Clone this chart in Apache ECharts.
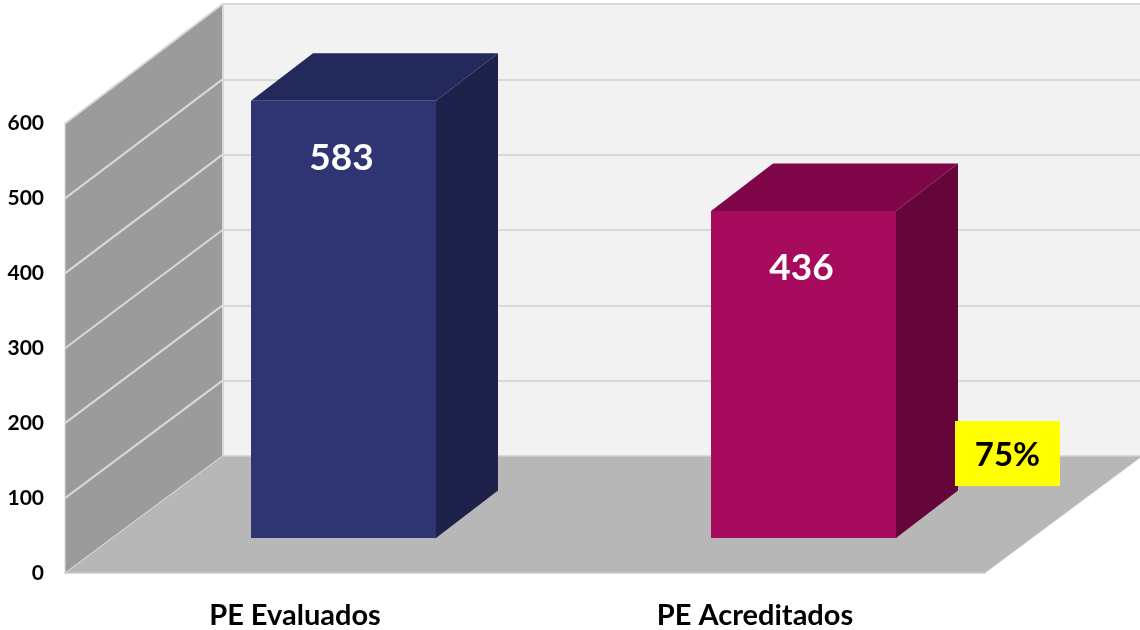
<!DOCTYPE html>
<html>
<head>
<meta charset="utf-8">
<title>PE Evaluados / PE Acreditados</title>
<style>
  html, body { margin: 0; padding: 0; background: #fff; }
  #main { width: 1140px; height: 630px; }
</style>
</head>
<body>
<div id="main"></div>
<script src="https://cdn.jsdelivr.net/npm/echarts@6/dist/echarts.min.js"></script>
<script>
  const categories = ['PE Evaluados', 'PE Acreditados']
  const values = [583, 436]
  const yTicks = [0, 100, 200, 300, 400, 500, 600]
  const percentLabel = '75%'
  const frontColors = ['#2e3572', '#a60b5e']
  const topColors = ['#232a5b', '#80064a']
  const sideColors = ['#1e214a', '#66053a']

  const font = 'Lato, "Open Sans", sans-serif'
  const gridLine = '#d9d9d9'

  // how far the back wall and the bar depth sit from the front plane, in pixels
  const wallDepth = { x: 157.5, y: 117, topExtra: 2.5 }
  const barDepth = { x: 62, y: 47.5 }
  const barWidth = 185

  function backPoint (p, v) {
    return [p[0] + wallDepth.x, p[1] - wallDepth.y - v / 600 * wallDepth.topExtra]
  }

  // left wall and floor, one line per tick of the value axis
  function renderWall (params, api) {
    const v = api.value(1)
    const halfBand = api.size([1, 0])[0] / 2
    const left = api.coord([0, v])[0] - halfBand
    const p = [left, api.coord([0, v])[1]]
    const children = []
    if (params.dataIndex === 0) {
      const top = [left, api.coord([0, 600])[1]]
      const right = api.coord([1, 0])[0] + halfBand
      const floorFront = [right, p[1]]
      children.push({
        type: 'polygon',
        shape: { points: [p, top, backPoint(top, 600), backPoint(p, 0)] },
        style: { fill: '#9b9b9b', stroke: gridLine, lineWidth: 1 }
      })
      children.push({
        type: 'polygon',
        shape: { points: [p, floorFront, backPoint(floorFront, 0), backPoint(p, 0)] },
        style: { fill: '#b7b7b7', stroke: gridLine, lineWidth: 1 }
      })
    }
    if (v > 0 && v <= 600) {
      const b = backPoint(p, v)
      children.push({
        type: 'line',
        shape: { x1: p[0], y1: p[1], x2: b[0], y2: b[1] },
        style: { stroke: gridLine, lineWidth: 2 }
      })
    }
    return { type: 'group', children: children }
  }

  function renderBar (params, api) {
    const i = params.dataIndex
    const v = api.value(1)
    const top = api.coord([i, v])
    const base = api.coord([i, 0])
    const x0 = top[0] - barWidth / 2
    const x1 = top[0] + barWidth / 2
    const dx = barDepth.x
    const dy = barDepth.y
    return {
      type: 'group',
      children: [
        {
          type: 'polygon',
          shape: { points: [[x1, top[1]], [x1 + dx, top[1] - dy], [x1 + dx, base[1] - dy], [x1, base[1]]] },
          style: { fill: sideColors[i] }
        },
        {
          type: 'polygon',
          shape: { points: [[x0, top[1]], [x0 + dx, top[1] - dy], [x1 + dx, top[1] - dy], [x1, top[1]]] },
          style: { fill: topColors[i] }
        },
        {
          type: 'rect',
          shape: { x: x0, y: top[1], width: barWidth, height: base[1] - top[1] },
          style: { fill: frontColors[i] }
        },
        {
          type: 'text',
          style: {
            x: top[0] - 2,
            y: top[1] + 57,
            text: String(v),
            fill: '#fff',
            font: 'bold 37px ' + font,
            textAlign: 'center',
            textVerticalAlign: 'middle'
          }
        }
      ]
    }
  }

  const myChart = echarts.init(document.getElementById('main'), null, { renderer: 'canvas' })
  myChart.setOption({
    animation: false,
    backgroundColor: '#fff',
    grid: [
      // front plane, carries the visible labels
      { left: 65, right: 155, top: 123.5, bottom: 57 },
      // back wall
      { left: 222.5, right: 0, top: 4, bottom: 174, show: true, backgroundColor: '#f2f2f2', borderWidth: 0 },
      // plane the bars stand on
      { left: 113.5, right: 106.5, top: 88, bottom: 92 }
    ],
    xAxis: [
      {
        gridIndex: 0,
        type: 'category',
        data: categories,
        axisTick: { show: false },
        axisLine: { lineStyle: { color: gridLine, width: 2 } },
        axisLabel: { color: '#000', fontFamily: font, fontWeight: 'bold', fontSize: 29, margin: 28 }
      },
      {
        gridIndex: 1,
        type: 'value',
        axisLine: { show: false },
        axisTick: { show: false },
        axisLabel: { show: false },
        splitLine: { show: false }
      },
      {
        gridIndex: 2,
        type: 'category',
        data: categories,
        axisLine: { show: false },
        axisTick: { show: false },
        axisLabel: { show: false }
      }
    ],
    yAxis: [
      {
        gridIndex: 0,
        type: 'value',
        min: 0,
        max: 600,
        interval: 100,
        axisLine: { show: true, lineStyle: { color: gridLine, width: 1 } },
        axisTick: { show: false },
        splitLine: { show: false },
        axisLabel: { color: '#000', fontFamily: font, fontWeight: 'bold', fontSize: 21, margin: 21, padding: [3, 0, 0, 0] }
      },
      {
        gridIndex: 1,
        type: 'value',
        min: 0,
        max: 600,
        interval: 100,
        axisLine: { show: true, lineStyle: { color: gridLine, width: 2 } },
        axisTick: { show: false },
        axisLabel: { show: false },
        splitLine: { show: true, lineStyle: { color: gridLine, width: 2 } }
      },
      {
        gridIndex: 2,
        type: 'value',
        min: 0,
        max: 600,
        interval: 100,
        axisLine: { show: false },
        axisTick: { show: false },
        axisLabel: { show: false },
        splitLine: { show: false }
      }
    ],
    series: [
      {
        name: 'walls',
        type: 'custom',
        xAxisIndex: 0,
        yAxisIndex: 0,
        z: 1,
        silent: true,
        renderItem: renderWall,
        data: yTicks.map(function (t) { return [0, t] })
      },
      {
        name: 'PE',
        type: 'custom',
        xAxisIndex: 2,
        yAxisIndex: 2,
        z: 3,
        silent: true,
        renderItem: renderBar,
        data: values.map(function (v, i) { return [i, v] })
      }
    ],
    graphic: [
      {
        type: 'rect',
        z: 100,
        silent: true,
        shape: { x: 955, y: 421, width: 105, height: 65 },
        style: { fill: '#ffff00' }
      },
      {
        type: 'text',
        z: 101,
        silent: true,
        x: 1007.5,
        y: 455.5,
        style: {
          text: percentLabel,
          fill: '#000',
          font: 'bold 33px ' + font,
          textAlign: 'center',
          textVerticalAlign: 'middle'
        }
      }
    ]
  })
  window.addEventListener('resize', function () {
    myChart.resize()
  })
</script>
</body>
</html>
